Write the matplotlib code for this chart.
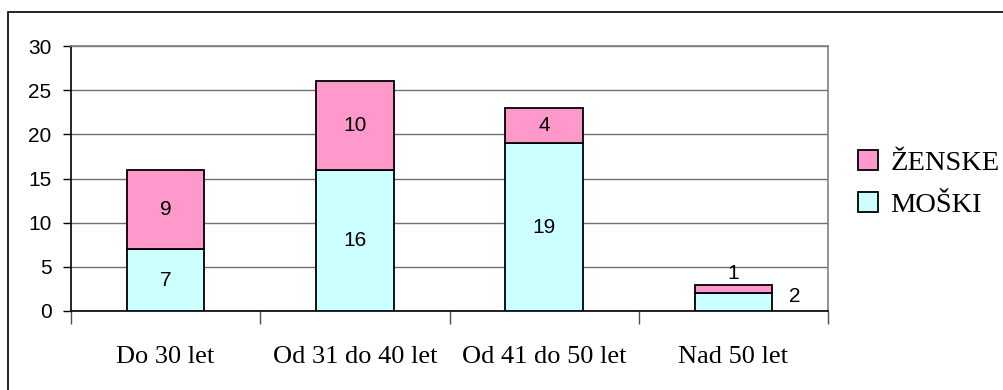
import matplotlib
matplotlib.use("Agg")
import matplotlib.pyplot as plt
from matplotlib.patches import Rectangle, Patch

categories = ["Do 30 let", "Od 31 do 40 let", "Od 41 do 50 let", "Nad 50 let"]
moski = [7, 16, 19, 2]
zenske = [9, 10, 4, 1]
series_names = ["MOŠKI", "ŽENSKE"]
y_ticks = [0, 5, 10, 15, 20, 25, 30]

c_m = "#CCFFFF"
c_z = "#FF99CC"

W, H = 1004, 390
fig = plt.figure(figsize=(W / 100, H / 100), dpi=100)
fig.patch.set_facecolor("white")

# outer frame
fig.add_artist(Rectangle((8 / W, -0.1), 1.2, 1.1 - 12 / H, transform=fig.transFigure,
                         fill=False, edgecolor="black", linewidth=1.2))

ax = fig.add_axes([71 / W, (H - 311) / H, 757 / W, 265 / H])
x = list(range(len(categories)))
bw = 0.41
ax.bar(x, moski, width=bw, color=c_m, edgecolor="black", linewidth=1.3, zorder=3)
ax.bar(x, zenske, width=bw, bottom=moski, color=c_z, edgecolor="black", linewidth=1.3, zorder=3)

ax.set_xlim(-0.5, len(categories) - 0.5)
ax.set_ylim(0, 30)
ax.set_yticks(y_ticks)
ax.set_yticklabels([str(v) for v in y_ticks], fontfamily="Liberation Sans", fontsize=15)
ax.yaxis.grid(True, color="#707070", linewidth=1.0, zorder=0)
ax.set_axisbelow(True)

ax.set_xticks(x)
ax.set_xticklabels(categories, fontfamily="Liberation Serif", fontsize=19)
ax.tick_params(axis="x", length=0, pad=25)
ax.tick_params(axis="y", length=6, width=1.0, pad=8, direction="out")
# category boundary ticks
ax.set_xticks([i - 0.5 for i in range(len(categories) + 1)], minor=True)
ax.tick_params(axis="x", which="minor", length=9, width=1.0, color="#505050")

for s in ["top", "right"]:
    ax.spines[s].set_color("#808080")
    ax.spines[s].set_linewidth(1.2)
for s in ["left", "bottom"]:
    ax.spines[s].set_color("black")
    ax.spines[s].set_linewidth(1.2)

lab_kw = dict(fontfamily="Liberation Sans", fontsize=15, color="black", zorder=5)
for i in range(len(categories)):
    m, z = moski[i], zenske[i]
    if m >= 4:
        ax.text(i, m / 2, str(m), ha="center", va="center", **lab_kw)
    else:
        ax.text(i + bw / 2 + 0.09, m * 0.8, str(m), ha="left", va="center", **lab_kw)
    if z >= 3:
        ax.text(i, m + z / 2, str(z), ha="center", va="center", **lab_kw)
    else:
        ax.text(i, m + z + 1.2, str(z), ha="center", va="center", **lab_kw)

handles = [Patch(facecolor=c_z, edgecolor="black", linewidth=1.3),
           Patch(facecolor=c_m, edgecolor="black", linewidth=1.3)]
leg = fig.legend(handles, [series_names[1], series_names[0]], loc="center left",
                 bbox_to_anchor=(832 / W, 1 - 184 / H), frameon=False,
                 prop={"family": "Liberation Serif", "size": 20.5},
                 handlelength=0.7, handleheight=0.7, handletextpad=0.45, labelspacing=0.55)

fig.savefig("out.png", dpi=100, facecolor="white")
